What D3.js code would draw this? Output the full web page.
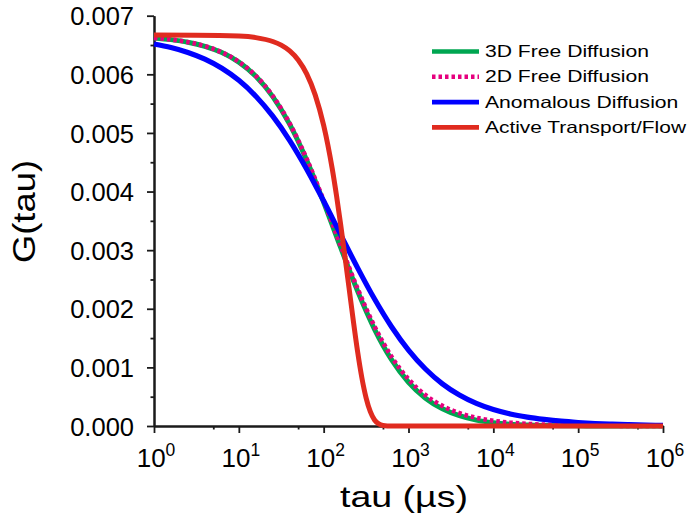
<!DOCTYPE html>
<html>
<head>
<meta charset="utf-8">
<script src="https://cdn.jsdelivr.net/npm/d3@7"></script>
<style>
  html, body { margin: 0; padding: 0; background: #fff; }
  svg { display: block; font-family: "Liberation Sans", Arial, sans-serif; }
</style>
</head>
<body>
<svg id="chart" width="687" height="518"></svg>
<script>
// Lag time grid (µs), 5 points per decade
const tau = [1, 1.585, 2.512, 3.981, 6.310, 10, 15.85, 25.12, 39.81, 63.10,
  100, 158.5, 251.2, 398.1, 631.0, 1000, 1585, 2512, 3981, 6310,
  1e4, 15849, 25119, 39811, 63096, 1e5, 158489, 251189, 398107, 630957, 1e6];

// 3D free diffusion
const g3D = [0.006621, 0.006592, 0.006548, 0.006478, 0.006371, 0.006208, 0.005967, 0.005620, 0.005145, 0.004535,
  0.003816, 0.003046, 0.002301, 0.001650, 0.001132, 0.000746, 0.000475, 0.000293, 0.000175, 0.000101,
  0.000057, 0.000031, 0.000017, 0.0000087, 0.0000045, 0.0000023, 0.0000012, 0.0000006, 0.0000003, 0.00000015, 0.00000007];

// 2D free diffusion
const g2D = [0.006621, 0.006593, 0.006549, 0.006480, 0.006374, 0.006213, 0.005974, 0.005630, 0.005160, 0.004556,
  0.003844, 0.003081, 0.002343, 0.001698, 0.001183, 0.000799, 0.000527, 0.000343, 0.000220, 0.000141,
  0.0000895, 0.0000568, 0.0000359, 0.0000227, 0.0000144, 0.0000091, 0.0000057, 0.0000036, 0.0000023, 0.0000014, 0.0000009];

// Anomalous diffusion
const gAnom = [0.006518, 0.006457, 0.006373, 0.006259, 0.006103, 0.005897, 0.005627, 0.005286, 0.004870, 0.004382,
  0.003838, 0.003266, 0.002698, 0.002166, 0.001694, 0.001295, 0.000972, 0.000719, 0.000528, 0.000385,
  0.000280, 0.000205, 0.000152, 0.000113, 0.000082, 0.000060, 0.000043, 0.000031, 0.000022, 0.000016, 0.000011];

// Active transport / flow, sampled more densely around the drop
const tauFlow = [1, 3.162, 10, 15.85, 25.12, 31.62, 39.81, 50.12, 63.10, 79.43,
  100, 112.2, 125.9, 141.3, 158.5, 177.8, 199.5, 223.9, 251.2, 281.8,
  316.2, 354.8, 398.1, 446.7, 501.2, 631.0, 1000, 1e4, 1e5, 1e6];
const gFlow = [0.006670, 0.006668, 0.006652, 0.006626, 0.006560, 0.006497, 0.006398, 0.006244, 0.006007, 0.005649,
  0.005128, 0.004791, 0.004397, 0.003942, 0.003440, 0.002900, 0.002345, 0.001788, 0.001268, 0.000826,
  0.000481, 0.000244, 0.000103, 0.000035, 0.000009, 0, 0, 0, 0, 0];

const seriesNames = ["3D Free Diffusion", "2D Free Diffusion", "Anomalous Diffusion", "Active Transport/Flow"];

const xMajor = [1, 10, 100, 1000, 1e4, 1e5, 1e6];
const xExponents = ["0", "1", "2", "3", "4", "5", "6"];
const xMinor = [5, 50, 500, 5000, 5e4, 5e5];
const yMajor = [0, 0.001, 0.002, 0.003, 0.004, 0.005, 0.006, 0.007];
const yMinor = [0.0005, 0.0015, 0.0025, 0.0035, 0.0045, 0.0055, 0.0065];

const svg = d3.select("#chart");
const x = d3.scaleLog().domain([1, 1e6]).range([154, 663]);
const y = d3.scaleLinear().domain([0, 0.007]).range([426, 15.7]);
const axisColor = "#1a1a1a";

// Axes
function styleAxis(g) {
  g.select(".domain").attr("stroke", axisColor).attr("stroke-width", 2);
  g.selectAll(".tick line").attr("stroke", axisColor).attr("stroke-width", 1.8);
}
svg.append("g").attr("transform", "translate(0,426)")
  .call(d3.axisBottom(x).tickValues(xMinor).tickSize(3.5).tickSizeOuter(0).tickFormat(""))
  .call(styleAxis);
svg.append("g").attr("transform", "translate(0,426)")
  .call(d3.axisBottom(x).tickValues(xMajor).tickSize(7).tickSizeOuter(0).tickFormat(""))
  .call(styleAxis);
svg.append("g").attr("transform", "translate(154,0)")
  .call(d3.axisLeft(y).tickValues(yMinor).tickSize(3.5).tickSizeOuter(0).tickFormat(""))
  .call(styleAxis);
const yAxisG = svg.append("g").attr("transform", "translate(154,0)")
  .call(d3.axisLeft(y).tickValues(yMajor).tickSize(7).tickSizeOuter(0).tickPadding(13).tickFormat(d3.format(".3f")))
  .call(styleAxis);
yAxisG.selectAll(".tick text")
  .attr("font-size", 25.5).attr("fill", "#000").attr("font-family", "Liberation Sans, Arial, sans-serif")
  .attr("dy", "0.36em");

// Power-of-ten labels on the x axis: base "10" plus raised exponent,
// the pair centred just right of the tick
const baseSize = 26, expSize = 17.5;
const baseW = baseSize * 1.112, expW = expSize * 0.556;
const xl = svg.append("g").attr("fill", "#000");
xMajor.forEach((v, i) => {
  const start = x(v) - (baseW + expW) / 2 + 2;
  xl.append("text").attr("x", start).attr("y", 466.5).attr("font-size", baseSize).text("10");
  xl.append("text").attr("x", start + baseW).attr("y", 456).attr("font-size", expSize).text(xExponents[i]);
});

// Axis titles
svg.append("text")
  .attr("x", 404).attr("y", 506.5).attr("text-anchor", "middle")
  .attr("font-size", 29).attr("textLength", 128).attr("lengthAdjust", "spacingAndGlyphs")
  .text("tau (µs)");
svg.append("text")
  .attr("transform", "translate(35,211.5) rotate(-90)").attr("text-anchor", "middle")
  .attr("font-size", 30.5).attr("textLength", 103).attr("lengthAdjust", "spacingAndGlyphs")
  .text("G(tau)");

// Curves
const line = d3.line().x(d => x(d[0])).y(d => y(d[1])).curve(d3.curveMonotoneX);
const styles = [
  { color: "#00a651", width: 5, dash: null },
  { color: "#e6007e", width: 4.6, dash: "3.5,3" },
  { color: "#0000ff", width: 5.2, dash: null },
  { color: "#e02b1f", width: 5, dash: null }
];
const seriesData = [
  d3.zip(tau, g3D),
  d3.zip(tau, g2D),
  d3.zip(tau, gAnom),
  d3.zip(tauFlow, gFlow)
];
seriesData.forEach((pts, i) => {
  const s = styles[i];
  const p = svg.append("path").attr("d", line(pts))
    .attr("fill", "none").attr("stroke", s.color).attr("stroke-width", s.width)
    .attr("stroke-linejoin", "round");
  if (s.dash) p.attr("stroke-dasharray", s.dash);
});

// Legend
const legend = svg.append("g");
seriesNames.forEach((name, i) => {
  const s = styles[i];
  const base = 57 + 25.3 * i;
  const l = legend.append("line")
    .attr("x1", 432).attr("x2", 479).attr("y1", base - 5.5).attr("y2", base - 5.5)
    .attr("stroke", s.color).attr("stroke-width", 4.6);
  if (s.dash) l.attr("stroke-dasharray", s.dash);
  const t = legend.append("text").attr("x", 485).attr("y", base)
    .attr("font-size", 16.5).attr("fill", "#000").text(name);
  const w = t.node().getComputedTextLength();
  t.attr("textLength", Math.min(w * 1.28, 201)).attr("lengthAdjust", "spacingAndGlyphs");
});
</script>
</body>
</html>
